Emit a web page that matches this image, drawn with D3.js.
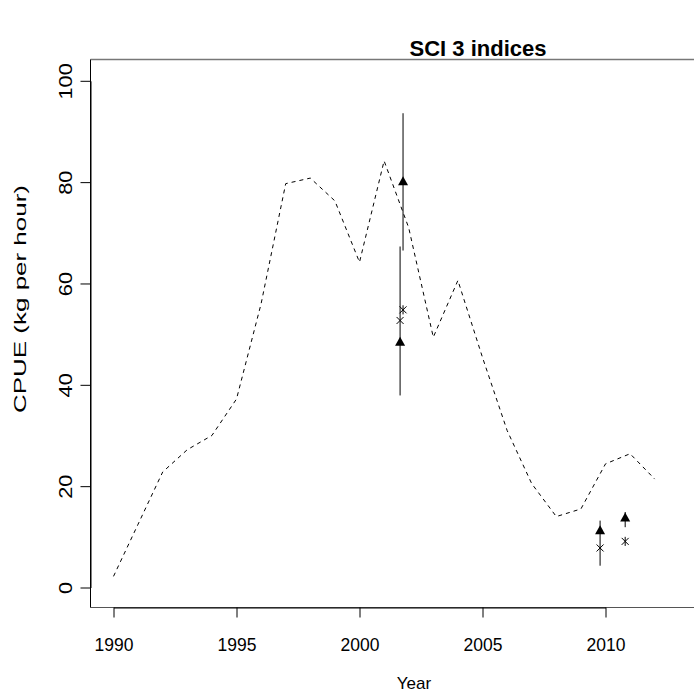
<!DOCTYPE html>
<html>
<head>
<meta charset="utf-8">
<script src="https://cdn.jsdelivr.net/npm/d3@7"></script>
<style>
  html, body { margin: 0; padding: 0; background: #fff; }
  svg { display: block; font-family: "Liberation Sans", Arial, sans-serif; }
</style>
</head>
<body>
<svg id="chart" width="694" height="693"></svg>
<script>
// Model CPUE trajectory (dashed line)
const years = [1990, 1991, 1992, 1993, 1994, 1995, 1996, 1997, 1998, 1999, 2000,
               2001, 2002, 2003, 2004, 2005, 2006, 2007, 2008, 2009, 2010, 2011, 2012];
const cpue  = [2.2, 12.5, 22.8, 27.2, 30.0, 37.2, 56.0, 79.7, 80.8, 76.3, 64.2,
               84.2, 71.0, 49.4, 60.6, 45.4, 31.0, 20.5, 14.0, 15.5, 24.4, 26.4, 21.4];

// Survey indices: triangles with intervals, crosses for the second index
const surveyYears  = [2001.65, 2001.77, 2009.78, 2010.8];
const triIndex     = [48.4, 80.1, 11.2, 13.7];
const triLower     = [37.9, 66.5, 4.3, 11.9];
const triUpper     = [67.3, 93.6, 13.2, 14.9];
const crossIndex   = [52.7, 54.8, 7.8, 9.1];
const crossSymbol  = ["x", "asterisk", "x", "asterisk"];

// Axis ticks and labels
const xTicks = [1990, 1995, 2000, 2005, 2010];
const yTicks = [0, 20, 40, 60, 80, 100];
const titleText = "SCI 3 indices";
const xLabel = "Year";
const yLabel = "CPUE (kg per hour)";

const svg = d3.select("#chart");

const x = d3.scaleLinear().domain([1990, 2010]).range([113.5, 605.5]);
const y = d3.scaleLinear().domain([0, 100]).range([587.5, 80.8]);

const box = { left: 90.5, top: 59.5, bottom: 607.5, right: 740 };
const fs = 17.5;       // axis text size
const stretch = 1.25;  // rotated labels run a little long

// Plot frame
svg.append("line").attr("x1", box.left).attr("x2", box.right)
  .attr("y1", box.top).attr("y2", box.top).attr("stroke", "#777").attr("stroke-width", 1.3);
svg.append("line").attr("x1", box.left).attr("x2", box.right)
  .attr("y1", box.bottom).attr("y2", box.bottom).attr("stroke", "#555");
svg.append("line").attr("x1", box.left).attr("x2", box.left)
  .attr("y1", box.top).attr("y2", box.bottom).attr("stroke", "#000");

// Axes
const xAxis = svg.append("g")
  .attr("transform", `translate(0,${box.bottom})`)
  .call(d3.axisBottom(x).tickValues(xTicks).tickFormat(d3.format("d"))
        .tickSizeInner(10).tickSizeOuter(0));
const yAxis = svg.append("g")
  .attr("transform", `translate(${box.left},0)`)
  .call(d3.axisLeft(y).tickValues(yTicks).tickSizeInner(10).tickSizeOuter(0));

[xAxis, yAxis].forEach(g => {
  g.selectAll("path.domain").attr("stroke", "#000");
  g.selectAll(".tick line").attr("stroke", "#000");
  g.selectAll("text").attr("fill", "#000").style("font-size", fs + "px")
    .style("font-family", "Liberation Sans, Arial, sans-serif");
});

xAxis.selectAll(".tick text")
  .attr("y", 0).attr("dy", null)
  .attr("transform", "translate(0,43)");

// Rotated y tick labels
yAxis.selectAll(".tick text")
  .attr("x", 0).attr("y", 0).attr("dy", null)
  .attr("text-anchor", "middle")
  .attr("transform", `translate(-19,0) rotate(-90) scale(${stretch},1)`);

// Titles
svg.append("text").attr("x", 478).attr("y", 56)
  .attr("text-anchor", "middle").style("font-size", "22px").style("font-weight", "bold")
  .text(titleText);
svg.append("text").attr("x", 414).attr("y", 689)
  .attr("text-anchor", "middle").style("font-size", "17px").text(xLabel);
svg.append("text")
  .attr("transform", "translate(26,299) rotate(-90)")
  .attr("text-anchor", "middle").style("font-size", "16px")
  .attr("textLength", 228).attr("lengthAdjust", "spacingAndGlyphs")
  .text(yLabel);

// Dashed model line
svg.append("path")
  .datum(years.map((yr, i) => [yr, cpue[i]]))
  .attr("fill", "none").attr("stroke", "#000").attr("stroke-width", 1)
  .attr("stroke-dasharray", "4,4")
  .attr("d", d3.line().x(d => x(d[0])).y(d => y(d[1])));

// Survey intervals
const survey = surveyYears.map((yr, i) => ({
  yr, tri: triIndex[i], lo: triLower[i], hi: triUpper[i],
  cross: crossIndex[i], sym: crossSymbol[i]
}));

svg.append("g").selectAll("line").data(survey).join("line")
  .attr("x1", d => x(d.yr)).attr("x2", d => x(d.yr))
  .attr("y1", d => y(d.lo)).attr("y2", d => y(d.hi))
  .attr("stroke", "#000").attr("stroke-width", 1);

// Filled triangles
svg.append("g").selectAll("path").data(survey).join("path")
  .attr("transform", d => `translate(${x(d.yr)},${y(d.tri)})`)
  .attr("d", "M0,-5.5L5,3.5L-5,3.5Z")
  .attr("fill", "#000");

// Crosses / asterisks
const cs = 3.5;
svg.append("g").selectAll("path").data(survey).join("path")
  .attr("transform", d => `translate(${x(d.yr)},${y(d.cross)})`)
  .attr("d", d => {
    let p = `M${-cs},${-cs}L${cs},${cs}M${-cs},${cs}L${cs},${-cs}`;
    if (d.sym === "asterisk") p += `M0,${-cs * 1.3}L0,${cs * 1.3}`;
    return p;
  })
  .attr("fill", "none").attr("stroke", "#000").attr("stroke-width", 1);
</script>
</body>
</html>
